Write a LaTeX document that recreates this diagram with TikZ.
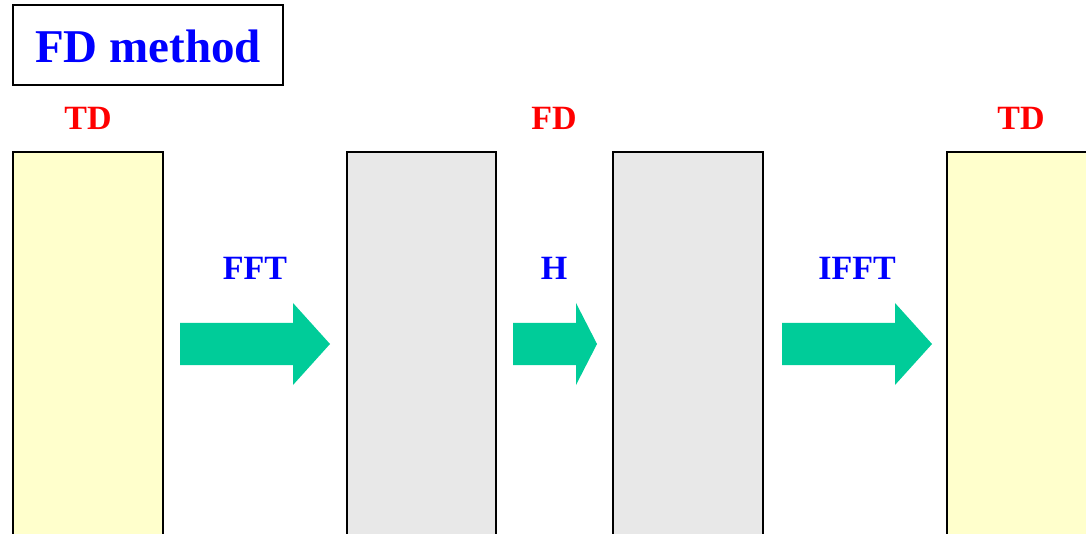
\documentclass[tikz,border=0pt]{standalone}
\usepackage{fontspec}
\setmainfont{Liberation Serif}
\definecolor{tdyellow}{HTML}{FFFFCC}
\definecolor{fdgray}{HTML}{E8E8E8}
\definecolor{arrowgreen}{HTML}{00CC99}
\begin{document}
\begin{tikzpicture}[x=1pt,y=-1pt,
  panel/.style={draw=black,line width=2.2pt},
  domlabel/.style={text=red,font=\fontsize{34}{40}\selectfont\bfseries,inner sep=0pt,anchor=base},
  oplabel/.style={text=blue,font=\fontsize{34}{40}\selectfont\bfseries,inner sep=0pt,anchor=base},
  flow/.style={fill=arrowgreen,draw=none}]
\useasboundingbox (0,0) rectangle (1086,534);
\clip (0,0) rectangle (1086,534);

% title
\draw[line width=1.8pt] (13,5) rectangle (283,85);
\node[text=blue,font=\fontsize{47}{54}\selectfont\bfseries,inner sep=0pt,anchor=base]
      (title) at (148,63) {FD method};

% signal panels
\fill[tdyellow] (13,152) rectangle (163,560);
\draw[panel] (13,560) -- (13,152) -- (163,152) -- (163,560);
\fill[fdgray] (347,152) rectangle (496,560);
\draw[panel] (347,560) -- (347,152) -- (496,152) -- (496,560);
\fill[fdgray] (613,152) rectangle (763,560);
\draw[panel] (613,560) -- (613,152) -- (763,152) -- (763,560);
\fill[tdyellow] (947,152) rectangle (1100,560);
\draw[panel] (947,560) -- (947,152) -- (1100,152);

% domain labels
\node[domlabel] (td1) at (88,130) {TD};
\node[domlabel] (fd) at (554,130) {FD};
\node[domlabel] (td2) at (1021,130) {TD};

% operation labels
\node[oplabel] (fft) at (255,280) {FFT};
\node[oplabel] (h) at (554,280) {H};
\node[oplabel] (ifft) at (857,280) {IFFT};

% block arrows
\fill[flow] (180,323) -- (293,323) -- (293,303) -- (330,344) -- (293,385) -- (293,365) -- (180,365) -- cycle;
\fill[flow] (513,323) -- (576,323) -- (576,303) -- (597,344) -- (576,385) -- (576,365) -- (513,365) -- cycle;
\fill[flow] (782,323) -- (895,323) -- (895,303) -- (932,344) -- (895,385) -- (895,365) -- (782,365) -- cycle;
\end{tikzpicture}
\end{document}
